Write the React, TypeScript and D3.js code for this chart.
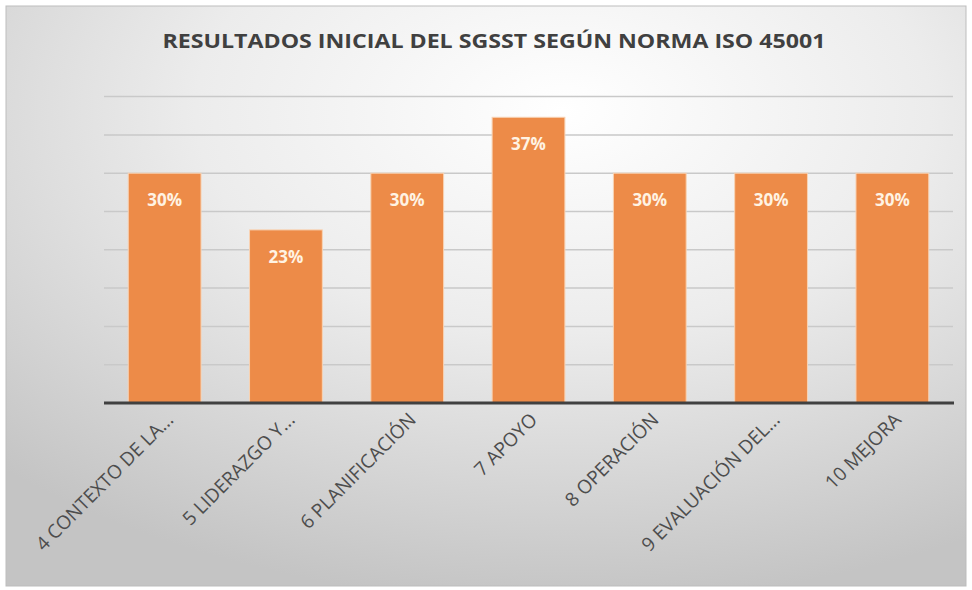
import { useRef, useEffect } from 'react';
import * as d3 from 'd3';

const categories = [
  '4 CONTEXTO DE LA...',
  '5 LIDERAZGO Y...',
  '6 PLANIFICACIÓN',
  '7 APOYO',
  '8 OPERACIÓN',
  '9 EVALUACIÓN DEL...',
  '10 MEJORA',
];
const values = [30, 22.6, 30, 37.3, 30, 30, 30];
const gridTicks = [5, 10, 15, 20, 25, 30, 35, 40];
const title = 'RESULTADOS INICIAL DEL SGSST SEGÚN NORMA ISO 45001';

export default function App() {
  const ref = useRef<SVGSVGElement>(null);

  useEffect(() => {
    if (!ref.current) return;
    drawChart(ref.current);
  }, []);

  return (
    <svg
      ref={ref}
      width={972}
      height={590}
      style={{ position: 'absolute', left: 0, top: 0, display: 'block' }}
    />
  );
}

function drawChart(svgEl: SVGSVGElement) {
  const svg = d3.select(svgEl);
  svg.selectAll('*').remove();

  const plot = { left: 104, right: 953, top: 96.6, bottom: 403 };

  const defs = svg.append('defs');
  const grad = defs.append('radialGradient')
    .attr('id', 'bg')
    .attr('cx', '58%')
    .attr('cy', '18%')
    .attr('r', '85%');
  grad.append('stop').attr('offset', '0%').attr('stop-color', '#ffffff');
  grad.append('stop').attr('offset', '45%').attr('stop-color', '#ececec');
  grad.append('stop').attr('offset', '100%').attr('stop-color', '#c4c4c4');

  svg.append('rect').attr('width', 972).attr('height', 590).attr('fill', '#ffffff');
  svg.append('rect')
    .attr('x', 6).attr('y', 6)
    .attr('width', 960).attr('height', 580)
    .attr('fill', 'url(#bg)')
    .attr('stroke', '#bdbdbd')
    .attr('stroke-width', 1);

  svg.append('text')
    .attr('x', 494)
    .attr('y', 48)
    .attr('text-anchor', 'middle')
    .attr('textLength', 663)
    .attr('lengthAdjust', 'spacingAndGlyphs')
    .style('font-family', '"Open Sans", sans-serif')
    .style('font-weight', 'bold')
    .style('font-size', '20px')
    .style('fill', '#404040')
    .text(title);

  const x = d3.scaleBand<string>()
    .domain(categories)
    .range([plot.left, plot.right])
    .paddingInner(0.4)
    .paddingOuter(0.2);

  const y = d3.scaleLinear()
    .domain([0, 40])
    .range([plot.bottom, plot.top]);

  const g = svg.append('g');

  g.selectAll('.grid')
    .data(gridTicks)
    .enter()
    .append('line')
    .attr('class', 'grid')
    .attr('x1', plot.left)
    .attr('x2', plot.right)
    .attr('y1', (d) => y(d))
    .attr('y2', (d) => y(d))
    .attr('stroke', '#c9c9c9')
    .attr('stroke-width', 1.5);

  const data = categories.map((c, i) => ({ c, v: values[i] }));

  g.selectAll('.bar')
    .data(data)
    .enter()
    .append('rect')
    .attr('class', 'bar')
    .attr('x', (d) => x(d.c)!)
    .attr('y', (d) => y(d.v))
    .attr('width', x.bandwidth())
    .attr('height', (d) => y(0) - y(d.v))
    .attr('fill', '#ed8b48')
    .attr('stroke', '#f8d3b4')
    .attr('stroke-width', 1);

  g.selectAll('.val')
    .data(data)
    .enter()
    .append('text')
    .attr('class', 'val')
    .attr('x', (d) => x(d.c)! + x.bandwidth() / 2)
    .attr('y', (d) => y(d.v) + 33)
    .attr('text-anchor', 'middle')
    .style('font-family', '"Open Sans", sans-serif')
    .style('font-weight', 'bold')
    .style('font-size', '17px')
    .style('fill', '#fff3e3')
    .text((d) => `${Math.round(d.v)}%`);

  g.append('line')
    .attr('x1', plot.left)
    .attr('x2', plot.right + 1)
    .attr('y1', y(0))
    .attr('y2', y(0))
    .attr('stroke', '#404040')
    .attr('stroke-width', 3);

  g.selectAll('.cat')
    .data(categories)
    .enter()
    .append('text')
    .attr('class', 'cat')
    .attr('transform', (d) => `translate(${x(d)! + x.bandwidth() / 2 + 10},${y(0) + 18}) rotate(-45)`)
    .attr('text-anchor', 'end')
    .style('font-family', '"Open Sans", sans-serif')
    .style('font-size', '19px')
    .style('fill', '#4d4d4d')
    .text((d) => d);
}
